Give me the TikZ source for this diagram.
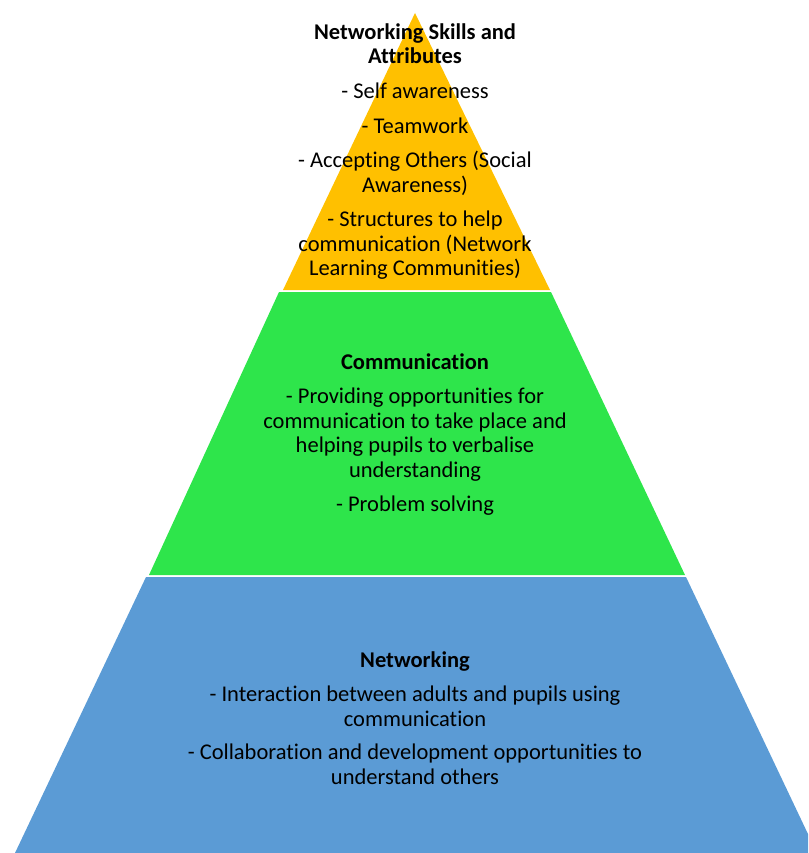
\documentclass[tikz,border=0pt]{standalone}
\usepackage{fontspec}
\setmainfont{Carlito}[Ligatures={NoCommon}]
\definecolor{tieryellow}{HTML}{FFC000}
\definecolor{tiergreen}{HTML}{2EE54B}
\definecolor{tierblue}{HTML}{5B9BD5}
\begin{document}
\begin{tikzpicture}[x=1pt,y=-1pt,
  tiertext/.style={align=center,font=\fontsize{22.5}{24.5}\selectfont,text=black,inner sep=0pt}]
\useasboundingbox (0,0) rectangle (808,853);
% pyramid tiers, top to bottom
\fill[tieryellow] (415,13) -- (550,290) -- (283,290) -- cycle;
\fill[tiergreen] (279,292) -- (551,292) -- (685,575) -- (149,575) -- cycle;
\begin{scope}
\clip (0,0) rectangle (808,853);
\fill[tierblue] (146,577) -- (686,577) -- (817,853) -- (15,853) -- cycle;
\end{scope}
% tier labels
\node[tiertext] (top) at (415,151.5) {\textbf{Networking Skills and}\\\textbf{Attributes}\\[10.5pt]
  - Self awareness\\[10pt]
  - Teamwork\\[10pt]
  - Accepting Others (Social\\Awareness)\\[10pt]
  - Structures to help\\communication (Network\\Learning Communities)};
\node[tiertext] (mid) at (415,434.5) {\textbf{Communication}\\[10pt]
  - Providing opportunities for\\communication to take place and\\helping pupils to verbalise\\understanding\\[10pt]
  - Problem solving};
\node[tiertext] (base) at (415,718) {\textbf{Networking}\\[10pt]
  - Interaction between adults and pupils using\\communication\\[9pt]
  - Collaboration and development opportunities to\\understand others};
\end{tikzpicture}
\end{document}
